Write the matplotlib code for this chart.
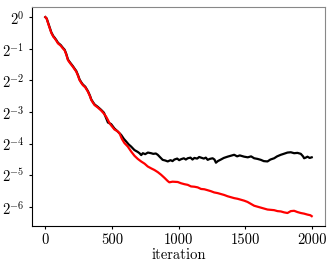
import numpy as np
import matplotlib
matplotlib.use("Agg")
import matplotlib.pyplot as plt
from matplotlib.ticker import FixedLocator, FixedFormatter, NullLocator

plt.rcParams['font.family'] = ['cmr10', 'DejaVu Serif']
plt.rcParams['mathtext.fontset'] = 'cm'
plt.rcParams['axes.unicode_minus'] = False
plt.rcParams['axes.formatter.use_mathtext'] = True

# red series (log2 of value)
red_iter = [0, 10, 25, 45, 60, 70, 85, 95, 115, 132, 145, 157, 170, 185, 207, 220, 232, 245, 257, 270,
            282, 300, 320, 335, 345, 360, 370, 395, 419, 440, 457, 470, 482, 494, 519, 540, 557, 575, 594, 619,
            645, 669, 694, 719, 745, 769, 795, 819, 845, 869, 895, 919, 931, 955, 994, 1019, 1045, 1069, 1094, 1120,
            1144, 1169, 1194, 1219, 1243, 1268, 1293, 1318, 1343, 1368, 1393, 1418, 1443, 1468, 1493, 1518, 1543, 1568, 1593, 1618,
            1643, 1668, 1693, 1718, 1743, 1768, 1793, 1818, 1843, 1868, 1893, 1918, 1943, 1968, 1990, 2000]
red_log2 = [0.0, -0.05, -0.25, -0.5, -0.62, -0.67, -0.76, -0.83, -0.9, -0.99, -1.05, -1.18, -1.36, -1.45, -1.57, -1.65, -1.72, -1.85, -1.99, -2.08,
            -2.15, -2.22, -2.36, -2.5, -2.62, -2.72, -2.78, -2.86, -2.95, -3.05, -3.15, -3.25, -3.35, -3.42, -3.55, -3.6, -3.67, -3.85, -3.98, -4.09,
            -4.25, -4.38, -4.48, -4.56, -4.63, -4.72, -4.78, -4.83, -4.9, -4.98, -5.08, -5.18, -5.22, -5.2, -5.21, -5.25, -5.28, -5.3, -5.35, -5.36,
            -5.38, -5.43, -5.44, -5.47, -5.5, -5.54, -5.56, -5.59, -5.62, -5.66, -5.69, -5.72, -5.74, -5.77, -5.8, -5.84, -5.9, -5.96, -5.99, -6.02,
            -6.05, -6.08, -6.09, -6.1, -6.13, -6.14, -6.17, -6.19, -6.13, -6.12, -6.16, -6.19, -6.21, -6.24, -6.26, -6.29]

# black series (log2 of value)
black_iter = [0, 10, 25, 45, 60, 70, 85, 95, 115, 132, 145, 157, 170, 185, 207, 220, 232, 245, 257, 270,
              282, 300, 320, 335, 345, 360, 370, 395, 419, 440, 470, 494, 519, 545, 569, 590, 607, 625, 644, 669,
              694, 707, 720, 732, 750, 770, 794, 810, 830, 844, 860, 881, 900, 919, 940, 955, 969, 990, 1005, 1019,
              1040, 1055, 1069, 1090, 1105, 1119, 1140, 1155, 1169, 1190, 1205, 1219, 1235, 1256, 1270, 1281, 1295, 1318, 1340, 1368,
              1393, 1418, 1440, 1460, 1493, 1520, 1545, 1568, 1593, 1618, 1640, 1668, 1690, 1718, 1740, 1768, 1790, 1818, 1843, 1868,
              1893, 1918, 1935, 1943, 1955, 1968, 1985, 2000]
black_log2 = [0.0, -0.04, -0.23, -0.48, -0.6, -0.65, -0.74, -0.81, -0.88, -0.97, -1.03, -1.16, -1.34, -1.43, -1.55, -1.63, -1.7, -1.83, -1.97, -2.06,
              -2.13, -2.2, -2.34, -2.48, -2.6, -2.7, -2.76, -2.84, -2.93, -3.02, -3.33, -3.38, -3.52, -3.62, -3.72, -3.85, -3.93, -4.02, -4.09, -4.2,
              -4.26, -4.3, -4.36, -4.3, -4.33, -4.28, -4.3, -4.32, -4.31, -4.35, -4.42, -4.51, -4.53, -4.56, -4.52, -4.55, -4.5, -4.47, -4.52, -4.49,
              -4.46, -4.5, -4.46, -4.44, -4.5, -4.45, -4.47, -4.42, -4.44, -4.47, -4.44, -4.51, -4.48, -4.46, -4.5, -4.6, -4.55, -4.5, -4.45, -4.41,
              -4.38, -4.35, -4.4, -4.37, -4.41, -4.43, -4.4, -4.46, -4.48, -4.51, -4.55, -4.56, -4.5, -4.46, -4.4, -4.35, -4.32, -4.28, -4.27, -4.3,
              -4.29, -4.32, -4.4, -4.46, -4.44, -4.41, -4.45, -4.43]

ytick_exps = [0, -1, -2, -3, -4, -5, -6]
ytick_labels = [r'$2^{0}$', r'$2^{-1}$', r'$2^{-2}$', r'$2^{-3}$', r'$2^{-4}$', r'$2^{-5}$', r'$2^{-6}$']
xticks = [0, 500, 1000, 1500, 2000]
xlabel = 'iteration'

fig = plt.figure(figsize=(3.32, 2.67), dpi=100)
ax = fig.add_axes([0.0964, 0.1536, 0.8826, 0.8202])

ax.plot(black_iter, np.power(2.0, black_log2), color='black', lw=1.6)
ax.plot(red_iter, np.power(2.0, red_log2), color='red', lw=1.6)

ax.set_yscale('log', base=2)
ax.set_ylim(2.0 ** -6.6, 2.0 ** 0.32)
ax.set_xlim(-100, 2100)
ax.yaxis.set_major_locator(FixedLocator([2.0 ** e for e in ytick_exps]))
ax.yaxis.set_major_formatter(FixedFormatter(ytick_labels))
ax.yaxis.set_minor_locator(NullLocator())
ax.set_xticks(xticks)
ax.set_xticklabels([str(v) for v in xticks])
ax.tick_params(labelsize=10.5, length=2.5, pad=3)
ax.set_xlabel(xlabel, fontsize=10.5, labelpad=1)
for side in ['top', 'right']:
    ax.spines[side].set_color('#888888')

fig.savefig('out.png', dpi=100)
